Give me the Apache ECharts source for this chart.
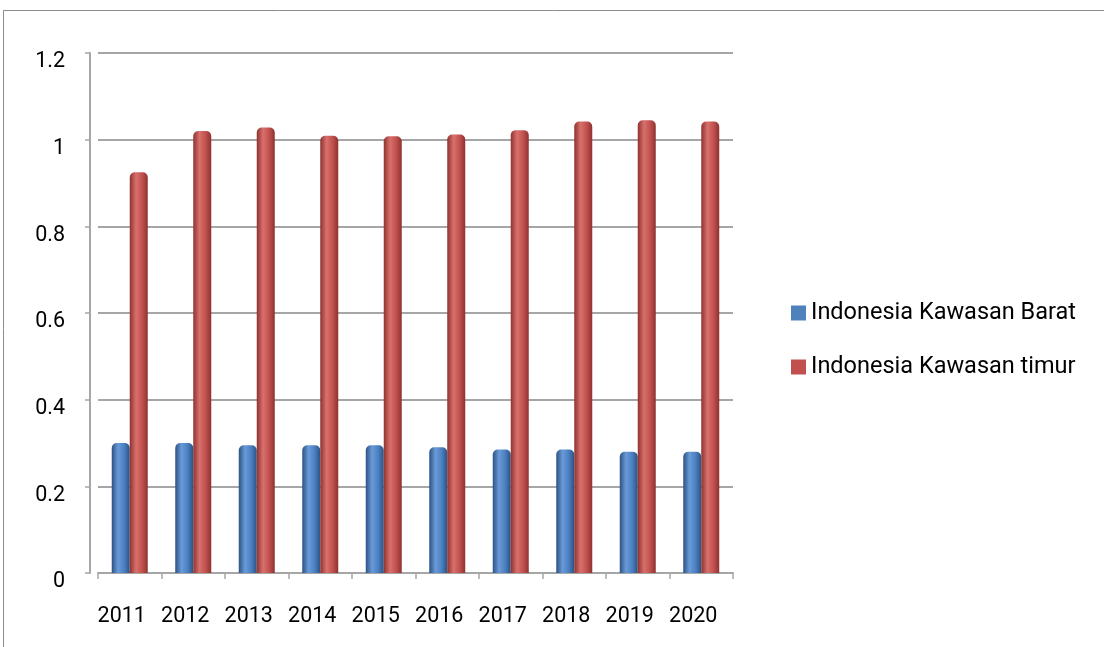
<!DOCTYPE html>
<html>
<head>
<meta charset="utf-8">
<script src="https://cdn.jsdelivr.net/npm/echarts@6/dist/echarts.min.js"></script>
<style>
html,body{margin:0;padding:0;background:#fff;}
#chart{width:1104px;height:647px;}
</style>
</head>
<body>
<div id="chart"></div>
<script>
var categories = ['2011','2012','2013','2014','2015','2016','2017','2018','2019','2020'];
var barat = [0.30, 0.30, 0.295, 0.295, 0.295, 0.29, 0.285, 0.285, 0.28, 0.28];
var timur = [0.925, 1.02, 1.028, 1.009, 1.008, 1.012, 1.022, 1.042, 1.045, 1.042];
var seriesNames = ['Indonesia Kawasan Barat', 'Indonesia Kawasan timur'];
var yTicks = ['0','0.2','0.4','0.6','0.8','1','1.2'];

var font = "Roboto, sans-serif";

function cyl(dark, mid, light) {
  return new echarts.graphic.LinearGradient(0, 0, 1, 0, [
    {offset: 0, color: dark},
    {offset: 0.35, color: light},
    {offset: 0.7, color: mid},
    {offset: 1, color: dark}
  ]);
}

var chart = echarts.init(document.getElementById('chart'), null, {renderer: 'canvas'});
chart.setOption({
  animation: false,
  backgroundColor: '#ffffff',
  graphic: [
    {type: 'line', shape: {x1: 3.5, y1: 10.5, x2: 1104, y2: 10.5}, style: {stroke: '#8c8c8c', lineWidth: 1}},
    {type: 'line', shape: {x1: 3.5, y1: 10.5, x2: 3.5, y2: 647}, style: {stroke: '#8c8c8c', lineWidth: 1}}
  ],
  grid: {left: 98, right: 371, top: 53, bottom: 74, containLabel: false},
  legend: {
    orient: 'vertical',
    left: 786,
    top: 296,
    itemWidth: 15,
    itemHeight: 15,
    itemGap: 30,
    icon: 'rect',
    data: [
      {name: seriesNames[0], itemStyle: {color: '#4f81bd'}},
      {name: seriesNames[1], itemStyle: {color: '#c0504d'}}
    ],
    textStyle: {fontFamily: font, fontSize: 23.5, color: '#000'}
  },
  xAxis: {
    type: 'category',
    data: categories,
    offset: 4,
    axisLine: {show: true, lineStyle: {color: '#a6a6a6', width: 2}},
    axisTick: {show: true, alignWithLabel: false, length: 6, lineStyle: {color: '#a6a6a6', width: 1.5}},
    axisLabel: {fontFamily: font, fontSize: 21.5, color: '#000', margin: 29, padding: [0, 16, 0, 0], interval: 0, hideOverlap: false},
    splitLine: {show: false}
  },
  yAxis: {
    type: 'value',
    min: 0,
    max: 1.2,
    interval: 0.2,
    offset: 8,
    axisLine: {show: true, lineStyle: {color: '#a6a6a6', width: 2}},
    axisTick: {show: true, length: 5, lineStyle: {color: '#a6a6a6', width: 1.5}},
    axisLabel: {
      fontFamily: font, fontSize: 21.5, color: '#000', margin: 25,
      formatter: function (v) { return '{p|' + yTicks[Math.round(v / 0.2)] + '}'; },
      rich: {p: {fontFamily: font, fontSize: 21.5, color: '#000', padding: [18, 0, 0, 0]}}
    },
    splitLine: {show: true, lineStyle: {color: '#a6a6a6', width: 2}}
  },
  series: [
    {
      name: seriesNames[0],
      type: 'bar',
      data: barat,
      barWidth: 18,
      barGap: '0%',
      itemStyle: {color: cyl('#2c5282', '#4a7fc0', '#6a9ad8'), borderRadius: [5, 5, 0, 0]}
    },
    {
      name: seriesNames[1],
      type: 'bar',
      data: timur,
      barWidth: 18,
      barGap: '0%',
      itemStyle: {color: cyl('#8e3230', '#c0504d', '#d8706c'), borderRadius: [5, 5, 0, 0]}
    }
  ]
});
</script>
</body>
</html>
